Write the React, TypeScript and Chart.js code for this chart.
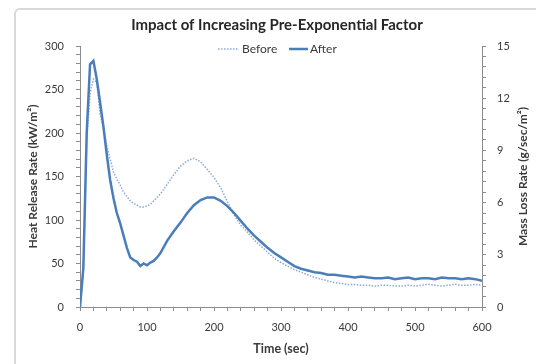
import React, { useEffect, useRef } from 'react';
import { Chart, registerables } from 'chart.js';

Chart.register(...registerables);

const chartTitle = 'Impact of Increasing Pre-Exponential Factor';
const xTitle = 'Time (sec)';
const leftTitle = 'Heat Release Rate (kW/m²)';
const rightTitle = 'Mass Loss Rate (g/sec/m²)';
const seriesNames = ['Before', 'After'];

const times = [
  0, 5, 10, 15, 20, 25, 30, 35, 40, 45, 50, 55, 60, 65, 70, 75, 80, 85, 90, 95, 100, 105, 110, 115, 120,
  130, 140, 150, 160, 170, 180, 190, 200, 210, 220, 230, 240, 250, 260, 270, 280, 290, 300,
  310, 320, 330, 340, 350, 360, 370, 380, 390, 400, 410, 420, 430, 440, 450, 460, 470, 480,
  490, 500, 510, 520, 530, 540, 550, 560, 570, 580, 590, 600,
];

const beforeHRR = [
  0, 40, 190, 245, 262, 258, 222, 205, 185, 170, 155, 147, 140, 132, 127, 122, 119, 117, 115, 115, 116, 118, 122, 126, 130,
  141, 152, 162, 168, 171, 167, 158, 149, 137, 121, 106, 94, 86, 77, 70, 63, 56, 51,
  47, 43, 40, 37, 34, 32, 30, 28, 27, 26, 26, 25, 25, 24, 25, 25, 24, 24,
  25, 24, 25, 26, 25, 24, 25, 26, 25, 25, 26, 25,
];

const afterHRR = [
  0, 45, 200, 279, 283, 262, 235, 207, 175, 146, 125, 108, 96, 82, 68, 57, 54, 52, 47, 50, 48, 51, 53, 57, 62,
  76, 87, 97, 108, 117, 123, 126, 126, 122, 116, 108, 99, 90, 82, 75, 68, 62, 57,
  52, 47, 44, 42, 40, 39, 37, 37, 36, 35, 34, 35, 34, 33, 33, 34, 32, 33,
  34, 32, 33, 33, 32, 34, 33, 33, 32, 33, 32, 30,
];

const xMajorTicks = [0, 100, 200, 300, 400, 500, 600];
const leftMajorTicks = [0, 50, 100, 150, 200, 250, 300];
const rightMajorTicks = [0, 3, 6, 9, 12, 15];

const FONT = 'Lato';
const TEXT = '#3a3a3a';
const AXIS = '#8c8c8c';
const BEFORE_COLOR = '#8aaad6';
const AFTER_COLOR = '#4a7ebb';

const isMajor = (v: number, list: number[]) => list.some((m) => Math.abs(m - v) < 1e-6);

const axisTitlesPlugin = {
  id: 'axisTitles',
  afterDraw(chart: any) {
    const { ctx, chartArea } = chart;
    const cy = (chartArea.top + chartArea.bottom) / 2;
    const cx = (chartArea.left + chartArea.right) / 2;
    ctx.save();
    ctx.font = `bold 12px ${FONT}`;
    ctx.fillStyle = TEXT;
    ctx.textAlign = 'center';
    ctx.textBaseline = 'middle';
    ctx.save();
    ctx.translate(33, cy);
    ctx.rotate(-Math.PI / 2);
    ctx.fillText(leftTitle, 0, 0);
    ctx.restore();
    ctx.save();
    ctx.translate(523, cy);
    ctx.rotate(-Math.PI / 2);
    ctx.fillText(rightTitle, 0, 0);
    ctx.restore();
    ctx.font = `bold 12.5px ${FONT}`;
    ctx.fillText(xTitle, cx, 349);
    ctx.restore();
  },
};

const legendPlugin = {
  id: 'customLegend',
  afterDraw(chart: any) {
    const { ctx } = chart;
    const y = 49;
    ctx.save();
    ctx.font = `12px ${FONT}`;
    ctx.fillStyle = TEXT;
    ctx.textAlign = 'left';
    ctx.textBaseline = 'middle';
    ctx.strokeStyle = BEFORE_COLOR;
    ctx.lineWidth = 1.5;
    ctx.setLineDash([1.5, 1.5]);
    ctx.beginPath();
    ctx.moveTo(218, y);
    ctx.lineTo(238, y);
    ctx.stroke();
    ctx.fillText(seriesNames[0], 242, y);
    ctx.strokeStyle = AFTER_COLOR;
    ctx.lineWidth = 2.5;
    ctx.setLineDash([]);
    ctx.beginPath();
    ctx.moveTo(289, y);
    ctx.lineTo(308, y);
    ctx.stroke();
    ctx.fillText(seriesNames[1], 310, y);
    ctx.restore();
  },
};

export default function App() {
  const ref = useRef<HTMLCanvasElement | null>(null);

  useEffect(() => {
    if (!ref.current) return;
    const chart = new Chart(ref.current, {
      type: 'line',
      data: {
        datasets: [
          {
            label: seriesNames[0],
            data: times.map((t, i) => ({ x: t, y: beforeHRR[i] })),
            borderColor: BEFORE_COLOR,
            borderWidth: 1.5,
            borderDash: [1.5, 1.5],
            pointRadius: 0,
            fill: false,
            order: 1,
            yAxisID: 'y',
          },
          {
            label: seriesNames[1],
            data: times.map((t, i) => ({ x: t, y: afterHRR[i] })),
            borderColor: AFTER_COLOR,
            borderWidth: 2.5,
            pointRadius: 0,
            fill: false,
            order: 0,
            yAxisID: 'y',
          },
        ],
      },
      options: {
        responsive: false,
        animation: false,
        layout: { padding: { left: 18, right: 0, top: 0, bottom: 0 } },
        plugins: {
          title: {
            display: true,
            text: chartTitle,
            color: '#262626',
            font: { family: FONT, size: 15, weight: 'bold' },
            padding: { top: 16, bottom: 12 },
          },
          legend: { display: false },
          tooltip: { enabled: false },
        },
        scales: {
          x: {
            type: 'linear',
            min: 0,
            max: 600,
            afterFit: (s: any) => {
              s.height = 57;
            },
            grid: { drawOnChartArea: false, drawTicks: true, tickLength: 4, color: AXIS },
            border: { color: AXIS, width: 1 },
            ticks: {
              stepSize: 20,
              autoSkip: false,
              maxRotation: 0,
              padding: 10,
              color: TEXT,
              font: { family: FONT, size: 11 },
              callback: (v: any) => (isMajor(Number(v), xMajorTicks) ? String(v) : ''),
            },
          },
          y: {
            type: 'linear',
            position: 'left',
            min: 0,
            max: 300,
            afterFit: (s: any) => {
              s.width = 62;
            },
            grid: { drawOnChartArea: false, drawTicks: true, tickLength: 4, color: AXIS },
            border: { color: AXIS, width: 1 },
            ticks: {
              stepSize: 10,
              maxTicksLimit: 100,
              autoSkip: false,
              padding: 12,
              color: TEXT,
              font: { family: FONT, size: 11 },
              callback: (v: any) => (isMajor(Number(v), leftMajorTicks) ? String(v) : ''),
            },
          },
          y1: {
            type: 'linear',
            position: 'right',
            min: 0,
            max: 15,
            afterFit: (s: any) => {
              s.width = 54;
            },
            grid: { drawOnChartArea: false, drawTicks: true, tickLength: 4, color: AXIS },
            border: { color: AXIS, width: 1 },
            ticks: {
              stepSize: 0.6,
              maxTicksLimit: 100,
              autoSkip: false,
              padding: 11,
              color: TEXT,
              font: { family: FONT, size: 11 },
              callback: (v: any) => {
                const n = Number(v);
                return isMajor(n, rightMajorTicks) ? String(Math.round(n)) : '';
              },
            },
          },
        },
      },
      plugins: [axisTitlesPlugin, legendPlugin],
    } as any);
    return () => chart.destroy();
  }, []);

  return (
    <div style={{ position: 'fixed', left: 0, top: 0, width: 536, height: 364, overflow: 'hidden', background: '#fff' }}>
      <div
        style={{
          position: 'absolute',
          left: 14,
          top: 8,
          width: 560,
          height: 400,
          border: '2px solid #d9d9d9',
          borderRadius: 6,
          boxSizing: 'border-box',
        }}
      />
      <canvas ref={ref} width={536} height={364} style={{ position: 'absolute', left: 0, top: 0, width: 536, height: 364 }} />
    </div>
  );
}
